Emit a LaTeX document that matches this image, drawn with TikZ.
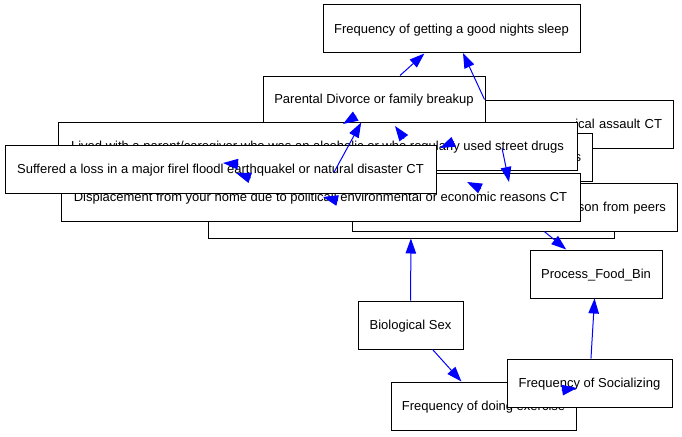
\documentclass[tikz,border=0pt]{standalone}
\usepackage{fontspec}
\setmainfont{Liberation Sans}
\usetikzlibrary{arrows.meta,positioning}

\begin{document}
\begin{tikzpicture}[x=1pt,y=-1pt,
  box/.style={draw=black,fill=white,line width=1pt,inner sep=0pt,minimum height=48pt,
    text height=11.5pt,text depth=2pt,font=\fontsize{13}{15}\selectfont},
  cutbox/.style={box,inner xsep=11pt,align=right},
  edge/.style={draw=blue,line width=1pt,-{Triangle[length=15pt,width=10.5pt]}}]
\useasboundingbox (0,0) rectangle (682,436);
% nodes, back to front
\node[box,minimum width=406pt] (hidden) at (411,214) {};
\node[cutbox,text width=303pt] (peers) at (514.5,207) {son from peers};
\node[cutbox,text width=166pt] (assault) at (579,124) {ical assault CT};
\node[cutbox,text width=212pt] (sbox) at (475,157) {s};
\node[box,minimum width=519pt] (lived) at (317.5,146) {Lived with a parent/caregiver who was an alcoholic or who regularly used street drugs};
\node[box,minimum width=519pt] (displace) at (320.5,197) {Displacement from your home due to politicall environmental or economic reasons CT};
\node[box,minimum width=431pt] (suffered) at (220.5,169) {Suffered a loss in a major firel floodl earthquakel or natural disaster CT};
\node[box,minimum width=222pt,minimum height=46pt] (divorce) at (374,99) {Parental Divorce or family breakup};
\node[box,minimum width=257pt] (sleep) at (451.5,29) {Frequency of getting a good nights sleep};
\node[box,minimum width=132pt] (process) at (596,274) {Process\_Food\_Bin};
\node[box,minimum width=105pt] (bio) at (410.5,325) {Biological Sex};
\node[box,minimum width=185pt] (exercise) at (483.5,406) {Frequency of doing exercise};
\node[box,minimum width=165pt] (social) at (589.5,383) {Frequency of Socializing};
% end points
\coordinate (sleepin) at (463,53);
\coordinate (assaultout) at (502,148);
\coordinate (sboxin) at (509,182);
\coordinate (atail) at (356.2,115.8);
\coordinate (atip) at (343,124);
\coordinate (ctail) at (404.1,138.6);
\coordinate (ctip) at (395,126);
\coordinate (dtail) at (454.1,141.6);
\coordinate (dtip) at (440,148);
\coordinate (ftail) at (481,188.7);
\coordinate (ftip) at (467,182);
\coordinate (gtail) at (238.5,164.2);
\coordinate (gtip) at (223,163);
\coordinate (htail) at (250.7,178);
\coordinate (htip) at (236,173);
\coordinate (itail) at (338,200.6);
\coordinate (itip) at (323,197);
\coordinate (jtail) at (561.7,390.2);
\coordinate (jtip) at (577,388);
% edges
\draw[edge] (divorce) -- (sleep);
\draw[edge] (assault.north west) -- (sleepin);
\draw[edge] (displace) -- (divorce);
\draw[edge] (assaultout) -- (sboxin);
\draw[edge] (bio) -- (hidden);
\draw[edge] (bio) -- (exercise);
\draw[edge] (peers) -- (process);
\draw[edge] (social) -- (process);
\draw[edge] (atail) -- (atip);
\draw[edge] (ctail) -- (ctip);
\draw[edge] (dtail) -- (dtip);
\draw[edge] (ftail) -- (ftip);
\draw[edge] (gtail) -- (gtip);
\draw[edge] (htail) -- (htip);
\draw[edge] (itail) -- (itip);
\draw[edge] (jtail) -- (jtip);
\end{tikzpicture}
\end{document}
